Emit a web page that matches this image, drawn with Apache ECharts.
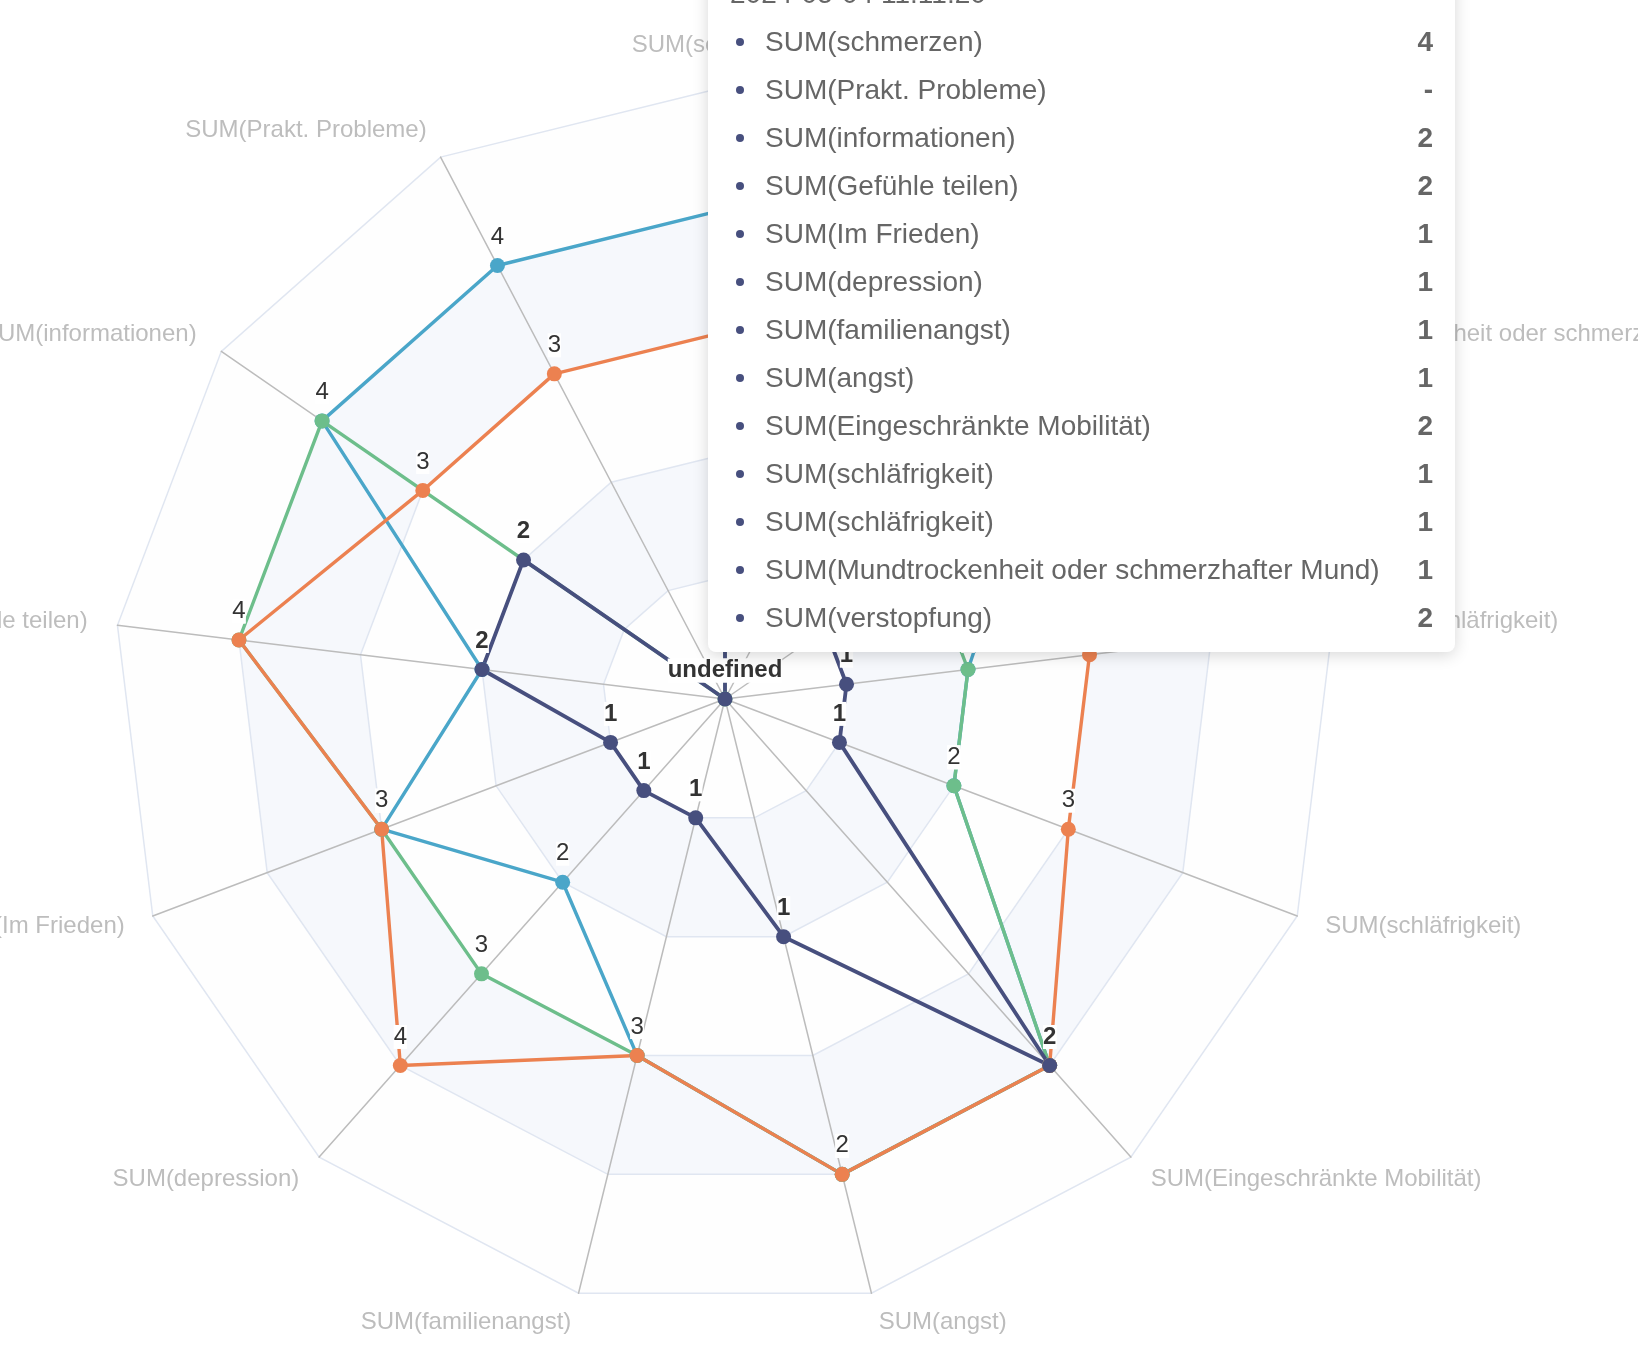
<!DOCTYPE html>
<html>
<head>
<meta charset="utf-8">
<script src="https://cdn.jsdelivr.net/npm/echarts@6/dist/echarts.min.js"></script>
<style>
html,body{margin:0;padding:0;background:#fff;overflow:hidden}
#wrap{position:relative;width:1638px;height:1350px;overflow:hidden}
#c{position:absolute;left:0;top:0;width:1638px;height:1350px}
#tip{position:absolute;left:708px;top:-42px;width:747px;box-sizing:border-box;padding:12px 22px 10px 22px;background:#fff;border-radius:8px;box-shadow:0 3px 16px rgba(0,0,0,0.16);font-family:"Liberation Sans",Arial,Helvetica,sans-serif;font-size:28px;color:#666;z-index:10}
#tip .t{height:48px;line-height:48px;white-space:nowrap}
#tip .r{display:flex;align-items:center;height:48px;white-space:nowrap}
#tip .d{flex:none;width:8px;height:8px;border-radius:50%;margin:0 21px 0 6px}
#tip .n{flex:1}
#tip .v{font-weight:bold}
</style>
</head>
<body>
<div id="wrap"><div id="c"></div><div id="tip"></div></div>
<script>
// ---- data ----
const indicators = [
  'SUM(schmerzen)', 'SUM(Prakt. Probleme)', 'SUM(informationen)', 'SUM(Gefühle teilen)',
  'SUM(Im Frieden)', 'SUM(depression)', 'SUM(familienangst)', 'SUM(angst)',
  'SUM(Eingeschränkte Mobilität)', 'SUM(schläfrigkeit)', 'SUM(schläfrigkeit)',
  'SUM(Mundtrockenheit oder schmerzhafter Mund)', 'SUM(verstopfung)'
];
const indicatorMax = [5, 5, 5, 5, 5, 5, 5, 2.5, 2.5, 5, 5, 5, 5];
const seriesNames = ['Reihe 1', 'Reihe 2', 'Reihe 3', '2024-05-04 11:11:20'];
const seriesColors = ['#4AA6C9', '#6DBE8B', '#EC8150', '#474F7E'];
const valuesBlue   = [4, 4, 4, 2, 3, 2, 3, 2, 2, 2, 2, 3, 4];
const valuesGreen  = [3, null, 4, 4, 3, 3, 3, 2, 2, 2, 2, 2, 2];
const valuesOrange = [3, 3, 3, 4, 3, 4, 3, 2, 2, 3, 3, 3, 3];
const valuesDark   = [4, null, 2, 2, 1, 1, 1, 1, 2, 1, 1, 1, 2];
const allValues = [valuesBlue, valuesGreen, valuesOrange, valuesDark];
const highlighted = 3;

const FONT = '"Liberation Sans", Arial, Helvetica, sans-serif';

const chart = echarts.init(document.getElementById('c'), null, {renderer: 'canvas'});
chart.setOption({
  animation: false,
  backgroundColor: '#ffffff',
  radar: {
    center: [725, 699],
    radius: 612,
    startAngle: 90,
    splitNumber: 5,
    shape: 'polygon',
    indicator: indicators.map((n, i) => ({name: n, min: 0, max: indicatorMax[i]})),
    nameGap: 30,
    axisName: {color: '#bdbdbd', fontSize: 24, fontFamily: FONT},
    axisLine: {lineStyle: {color: '#bcbcbc', width: 1.5}},
    splitLine: {lineStyle: {color: '#E0E6F1', width: 1.5}},
    splitArea: {show: true, areaStyle: {color: ['rgba(250,250,250,0.2)', 'rgba(210,219,238,0.2)']}},
    axisTick: {show: false},
    axisLabel: {show: false}
  },
  series: [{
    type: 'radar',
    symbol: 'circle',
    symbolSize: 15,
    silent: true,
    label: {
      show: true,
      position: 'top',
      distance: 9,
      fontSize: 24,
      fontFamily: FONT,
      color: '#333',
      backgroundColor: '#fff',
      formatter: p => (p.value == null ? 'undefined' : String(p.value))
    },
    data: allValues.map((vals, i) => ({
      name: seriesNames[i],
      value: vals,
      itemStyle: {color: seriesColors[i]},
      lineStyle: {color: seriesColors[i], width: i === highlighted ? 3.8 : 3.4},
      label: i === highlighted ? {fontWeight: 'bold'} : {}
    }))
  }]
});

// ---- tooltip panel for the highlighted entry ----
const tip = document.getElementById('tip');
let html = '<div class="t">' + seriesNames[highlighted] + '</div>';
indicators.forEach((n, i) => {
  const v = allValues[highlighted][i];
  html += '<div class="r"><span class="d" style="background:' + seriesColors[highlighted] + '"></span>' +
          '<span class="n">' + n + '</span><span class="v">' + (v == null ? '-' : v) + '</span></div>';
});
tip.innerHTML = html;
</script>
</body>
</html>
